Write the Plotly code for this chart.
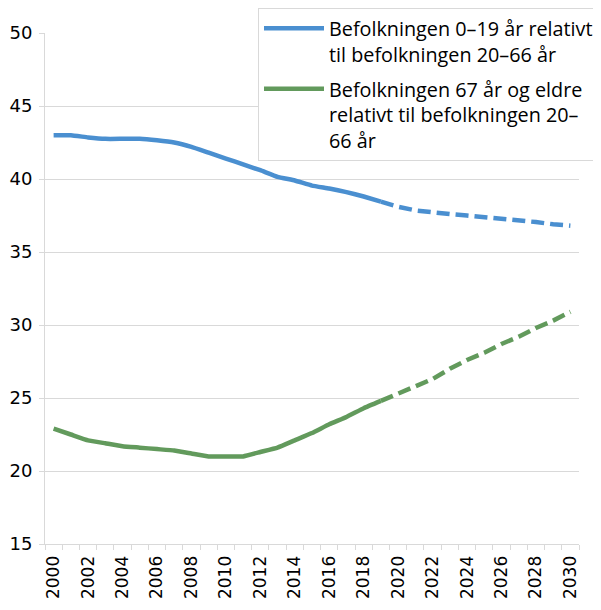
import plotly.graph_objects as go

years = list(range(2000, 2031))
young_ratio = [43.0, 43.0, 42.85, 42.75, 42.75, 42.75, 42.65, 42.5, 42.2, 41.8,
               41.4, 41.0, 40.6, 40.15, 39.9, 39.55, 39.35, 39.1, 38.8, 38.45,
               38.1, 37.85, 37.7, 37.6, 37.5, 37.4, 37.3, 37.15, 37.05, 36.9, 36.8]
old_ratio = [22.9, 22.5, 22.1, 21.9, 21.7, 21.6, 21.5, 21.4, 21.2, 21.0,
             21.0, 21.0, 21.3, 21.6, 22.1, 22.6, 23.2, 23.7, 24.3, 24.8,
             25.3, 25.8, 26.3, 27.0, 27.6, 28.1, 28.7, 29.2, 29.8, 30.3, 30.9]
last_actual = 2019
name_young = "Befolkningen 0–19 år relativt<br>til befolkningen 20–66 år"
name_old = "Befolkningen 67 år og eldre<br>relativt til befolkningen 20–<br>66 år"

BLUE = "#4A8FD0"
GREEN = "#629A5C"
GRID = "#D9D9D9"

fig = go.Figure()
for vals, name, color, grp in [(young_ratio, name_young, BLUE, "young"),
                               (old_ratio, name_old, GREEN, "old")]:
    xs = [y for y in years if y <= last_actual]
    ys = [v for y, v in zip(years, vals) if y <= last_actual]
    fig.add_trace(go.Scatter(x=xs, y=ys, mode="lines", name=name, legendgroup=grp,
                             line=dict(color=color, width=4.5, shape="spline", smoothing=0.3)))
    xd = [y for y in years if y >= last_actual]
    yd = [v for y, v in zip(years, vals) if y >= last_actual]
    fig.add_trace(go.Scatter(x=xd, y=yd, mode="lines", showlegend=False, legendgroup=grp,
                             line=dict(color=color, width=4.5, dash="13px,6px")))

# page body has an 8px default margin, so the figure is drawn 8px smaller
W, H = 593, 602
L, T, R, B = 37, 25, 22, 66
plot_w, plot_h = W - L - R, H - T - B

fig.update_layout(
    width=W, height=H,
    margin=dict(l=L, r=R, t=T, b=B, autoexpand=False),
    paper_bgcolor="white", plot_bgcolor="white",
    font=dict(family="DejaVu Sans", size=18, color="#000000"),
    legend=dict(x=(250 - L) / plot_w, y=(T + plot_h) / plot_h, xanchor="left", yanchor="top",
                bgcolor="white", bordercolor=GRID, borderwidth=1,
                font=dict(family="Open Sans", size=19.8, color="#000000"),
                valign="top", itemwidth=60, tracegroupgap=6),
    xaxis=dict(range=[1999.5, 2030.5], tickmode="array",
               tickvals=list(range(2000, 2031, 2)),
               ticktext=[str(y) for y in range(2000, 2031, 2)],
               tickangle=-90, ticks="", showgrid=False, zeroline=False,
               showline=True, linecolor=GRID, linewidth=1, automargin=False,
               ticklabelstandoff=4,
               tickfont=dict(family="DejaVu Sans", size=17),
               minor=dict(tick0=1999.5, dtick=1, ticks="outside", ticklen=5,
                          tickcolor=GRID, tickwidth=1, showgrid=False)),
    yaxis=dict(range=[15, 50], tickmode="linear", tick0=15, dtick=5,
               showgrid=True, gridcolor=GRID, gridwidth=1, zeroline=False,
               showline=True, linecolor=GRID, linewidth=1, automargin=False,
               ticks="outside", ticklen=5, tickcolor=GRID, ticklabelstandoff=3,
               tickfont=dict(family="DejaVu Sans", size=18)),
)

fig.write_html("out.html")
